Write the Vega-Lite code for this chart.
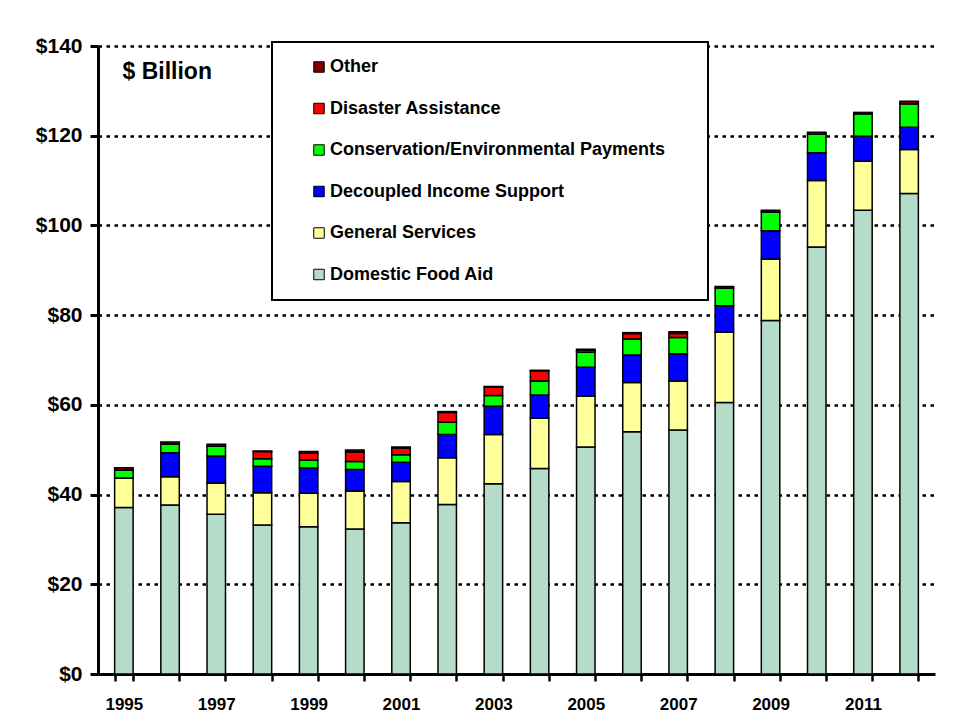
{
  "$schema": "https://vega.github.io/schema/vega-lite/v6.json",
  "autosize": {"type": "none"},
  "padding": {"left": 98, "top": 46, "right": 19, "bottom": 51},
  "width": 837,
  "height": 628,
  "background": "white",
  "data": {
    "values": [
      {"year": "1995", "category": "Domestic Food Aid", "value": 37.1},
      {"year": "1995", "category": "General Services", "value": 6.6},
      {"year": "1995", "category": "Decoupled Income Support", "value": 0},
      {"year": "1995", "category": "Conservation/Environmental Payments", "value": 1.8},
      {"year": "1995", "category": "Disaster Assistance", "value": 0},
      {"year": "1995", "category": "Other", "value": 0.5},
      {"year": "1996", "category": "Domestic Food Aid", "value": 37.7},
      {"year": "1996", "category": "General Services", "value": 6.3},
      {"year": "1996", "category": "Decoupled Income Support", "value": 5.3},
      {"year": "1996", "category": "Conservation/Environmental Payments", "value": 2.0},
      {"year": "1996", "category": "Disaster Assistance", "value": 0},
      {"year": "1996", "category": "Other", "value": 0.4},
      {"year": "1997", "category": "Domestic Food Aid", "value": 35.6},
      {"year": "1997", "category": "General Services", "value": 7.0},
      {"year": "1997", "category": "Decoupled Income Support", "value": 6.0},
      {"year": "1997", "category": "Conservation/Environmental Payments", "value": 2.2},
      {"year": "1997", "category": "Disaster Assistance", "value": 0},
      {"year": "1997", "category": "Other", "value": 0.4},
      {"year": "1998", "category": "Domestic Food Aid", "value": 33.2},
      {"year": "1998", "category": "General Services", "value": 7.2},
      {"year": "1998", "category": "Decoupled Income Support", "value": 5.9},
      {"year": "1998", "category": "Conservation/Environmental Payments", "value": 1.7},
      {"year": "1998", "category": "Disaster Assistance", "value": 1.6},
      {"year": "1998", "category": "Other", "value": 0.1},
      {"year": "1999", "category": "Domestic Food Aid", "value": 32.8},
      {"year": "1999", "category": "General Services", "value": 7.5},
      {"year": "1999", "category": "Decoupled Income Support", "value": 5.6},
      {"year": "1999", "category": "Conservation/Environmental Payments", "value": 1.8},
      {"year": "1999", "category": "Disaster Assistance", "value": 1.5},
      {"year": "1999", "category": "Other", "value": 0.4},
      {"year": "2000", "category": "Domestic Food Aid", "value": 32.3},
      {"year": "2000", "category": "General Services", "value": 8.5},
      {"year": "2000", "category": "Decoupled Income Support", "value": 4.8},
      {"year": "2000", "category": "Conservation/Environmental Payments", "value": 1.8},
      {"year": "2000", "category": "Disaster Assistance", "value": 2.1},
      {"year": "2000", "category": "Other", "value": 0.45},
      {"year": "2001", "category": "Domestic Food Aid", "value": 33.7},
      {"year": "2001", "category": "General Services", "value": 9.2},
      {"year": "2001", "category": "Decoupled Income Support", "value": 4.3},
      {"year": "2001", "category": "Conservation/Environmental Payments", "value": 1.7},
      {"year": "2001", "category": "Disaster Assistance", "value": 1.5},
      {"year": "2001", "category": "Other", "value": 0.2},
      {"year": "2002", "category": "Domestic Food Aid", "value": 37.8},
      {"year": "2002", "category": "General Services", "value": 10.4},
      {"year": "2002", "category": "Decoupled Income Support", "value": 5.2},
      {"year": "2002", "category": "Conservation/Environmental Payments", "value": 2.7},
      {"year": "2002", "category": "Disaster Assistance", "value": 2.2},
      {"year": "2002", "category": "Other", "value": 0.2},
      {"year": "2003", "category": "Domestic Food Aid", "value": 42.4},
      {"year": "2003", "category": "General Services", "value": 11.0},
      {"year": "2003", "category": "Decoupled Income Support", "value": 6.3},
      {"year": "2003", "category": "Conservation/Environmental Payments", "value": 2.4},
      {"year": "2003", "category": "Disaster Assistance", "value": 1.9},
      {"year": "2003", "category": "Other", "value": 0.1},
      {"year": "2004", "category": "Domestic Food Aid", "value": 45.8},
      {"year": "2004", "category": "General Services", "value": 11.2},
      {"year": "2004", "category": "Decoupled Income Support", "value": 5.2},
      {"year": "2004", "category": "Conservation/Environmental Payments", "value": 3.1},
      {"year": "2004", "category": "Disaster Assistance", "value": 2.3},
      {"year": "2004", "category": "Other", "value": 0.1},
      {"year": "2005", "category": "Domestic Food Aid", "value": 50.6},
      {"year": "2005", "category": "General Services", "value": 11.4},
      {"year": "2005", "category": "Decoupled Income Support", "value": 6.4},
      {"year": "2005", "category": "Conservation/Environmental Payments", "value": 3.3},
      {"year": "2005", "category": "Disaster Assistance", "value": 0.5},
      {"year": "2005", "category": "Other", "value": 0.2},
      {"year": "2006", "category": "Domestic Food Aid", "value": 54.0},
      {"year": "2006", "category": "General Services", "value": 11.0},
      {"year": "2006", "category": "Decoupled Income Support", "value": 6.1},
      {"year": "2006", "category": "Conservation/Environmental Payments", "value": 3.6},
      {"year": "2006", "category": "Disaster Assistance", "value": 1.2},
      {"year": "2006", "category": "Other", "value": 0.2},
      {"year": "2007", "category": "Domestic Food Aid", "value": 54.4},
      {"year": "2007", "category": "General Services", "value": 10.9},
      {"year": "2007", "category": "Decoupled Income Support", "value": 6.1},
      {"year": "2007", "category": "Conservation/Environmental Payments", "value": 3.6},
      {"year": "2007", "category": "Disaster Assistance", "value": 0.9},
      {"year": "2007", "category": "Other", "value": 0.4},
      {"year": "2008", "category": "Domestic Food Aid", "value": 60.5},
      {"year": "2008", "category": "General Services", "value": 15.7},
      {"year": "2008", "category": "Decoupled Income Support", "value": 5.9},
      {"year": "2008", "category": "Conservation/Environmental Payments", "value": 3.9},
      {"year": "2008", "category": "Disaster Assistance", "value": 0},
      {"year": "2008", "category": "Other", "value": 0.4},
      {"year": "2009", "category": "Domestic Food Aid", "value": 78.8},
      {"year": "2009", "category": "General Services", "value": 13.7},
      {"year": "2009", "category": "Decoupled Income Support", "value": 6.3},
      {"year": "2009", "category": "Conservation/Environmental Payments", "value": 4.2},
      {"year": "2009", "category": "Disaster Assistance", "value": 0},
      {"year": "2009", "category": "Other", "value": 0.4},
      {"year": "2010", "category": "Domestic Food Aid", "value": 95.2},
      {"year": "2010", "category": "General Services", "value": 14.8},
      {"year": "2010", "category": "Decoupled Income Support", "value": 6.2},
      {"year": "2010", "category": "Conservation/Environmental Payments", "value": 4.1},
      {"year": "2010", "category": "Disaster Assistance", "value": 0},
      {"year": "2010", "category": "Other", "value": 0.5},
      {"year": "2011", "category": "Domestic Food Aid", "value": 103.4},
      {"year": "2011", "category": "General Services", "value": 10.9},
      {"year": "2011", "category": "Decoupled Income Support", "value": 5.6},
      {"year": "2011", "category": "Conservation/Environmental Payments", "value": 5.0},
      {"year": "2011", "category": "Disaster Assistance", "value": 0},
      {"year": "2011", "category": "Other", "value": 0.3},
      {"year": "2012", "category": "Domestic Food Aid", "value": 107.1},
      {"year": "2012", "category": "General Services", "value": 9.8},
      {"year": "2012", "category": "Decoupled Income Support", "value": 5.0},
      {"year": "2012", "category": "Conservation/Environmental Payments", "value": 5.2},
      {"year": "2012", "category": "Disaster Assistance", "value": 0},
      {"year": "2012", "category": "Other", "value": 0.6}
    ]
  },
  "transform": [
    {"calculate": "indexof(['Domestic Food Aid', 'General Services', 'Decoupled Income Support', 'Conservation/Environmental Payments', 'Disaster Assistance', 'Other'], datum.category)", "as": "stackRank"}
  ],
  "mark": {"type": "bar", "stroke": "black", "strokeWidth": 1.5},
  "encoding": {
    "x": {
      "field": "year",
      "type": "ordinal",
      "scale": {"paddingInner": 0.6, "paddingOuter": 0.36},
      "axis": {
        "title": null,
        "labelAngle": 0,
        "tickBand": "extent",
        "labelExpr": "toNumber(datum.value) % 2 == 1 ? datum.label : ''",
        "labelFont": "Liberation Sans Narrow, Liberation Sans",
        "labelFontSize": 17,
        "labelFontWeight": "bold",
        "labelColor": "black",
        "labelPadding": 15,
        "domainColor": "black",
        "domainWidth": 3,
        "tickColor": "black",
        "tickWidth": 2.5,
        "tickSize": 7,
        "grid": false
      }
    },
    "y": {
      "field": "value",
      "type": "quantitative",
      "stack": "zero",
      "scale": {"domain": [0, 140], "nice": false},
      "axis": {
        "values": [0, 20, 40, 60, 80, 100, 120, 140],
        "format": "$.0f",
        "title": "$ Billion",
        "titleAngle": 0,
        "titleAlign": "left",
        "titleBaseline": "alphabetic",
        "titleX": 24,
        "titleY": 32,
        "titleFont": "Liberation Sans",
        "titleFontSize": 23,
        "titleFontWeight": "bold",
        "titleColor": "black",
        "labelFont": "Liberation Sans",
        "labelFontSize": 21,
        "labelFontWeight": "bold",
        "labelColor": "black",
        "labelPadding": 8,
        "domainColor": "black",
        "domainWidth": 3,
        "tickColor": "black",
        "tickWidth": 3,
        "tickSize": 8,
        "grid": true,
        "gridColor": "black",
        "gridWidth": 2.5,
        "gridDash": [3.5, 4.5],
        "gridOpacity": 1
      }
    },
    "order": {"field": "stackRank", "type": "quantitative", "sort": "ascending"},
    "color": {
      "field": "category",
      "type": "nominal",
      "scale": {
        "domain": ["Other", "Disaster Assistance", "Conservation/Environmental Payments", "Decoupled Income Support", "General Services", "Domestic Food Aid"],
        "range": ["#800000", "#FF0000", "#00FF00", "#0000FF", "#FFFF99", "#b5dcc8"]
      },
      "legend": {
        "title": " ",
        "titleOrient": "right",
        "titlePadding": 27,
        "orient": "none",
        "legendX": 174,
        "legendY": -4,
        "strokeColor": "black",
        "fillColor": "white",
        "padding": 16,
        "symbolType": "square",
        "symbolSize": 110,
        "symbolStrokeColor": "black",
        "symbolStrokeWidth": 1,
        "symbolOffset": 22,
        "labelOffset": 2,
        "labelFont": "Liberation Sans",
        "labelFontSize": 18,
        "labelFontWeight": "bold",
        "labelColor": "black",
        "labelLimit": 500,
        "rowPadding": 23.5,
        "encode": {"legend": {"update": {"strokeWidth": {"value": 2}}}}
      }
    }
  },
  "config": {
    "view": {"stroke": null},
    "font": "Liberation Sans"
  }
}
